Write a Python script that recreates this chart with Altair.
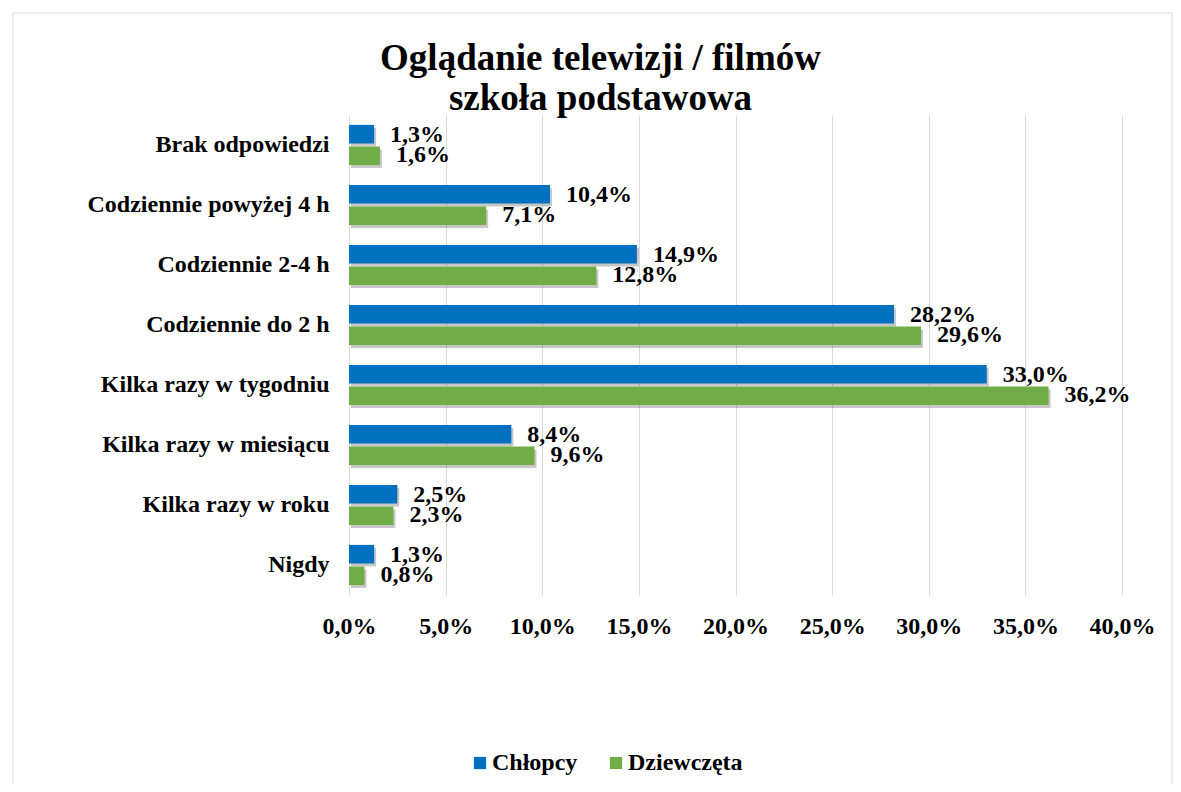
import altair as alt
import pandas as pd

categories = ["Brak odpowiedzi", "Codziennie powyżej 4 h", "Codziennie 2-4 h",
              "Codziennie do 2 h", "Kilka razy w tygodniu", "Kilka razy w miesiącu",
              "Kilka razy w roku", "Nigdy"]
chlopcy = [1.3, 10.4, 14.9, 28.2, 33.0, 8.4, 2.5, 1.3]
dziewczeta = [1.6, 7.1, 12.8, 29.6, 36.2, 9.6, 2.3, 0.8]
series = ["Chłopcy", "Dziewczęta"]
colors = ["#0070C0", "#70AD47"]
x_ticks = [0, 5, 10, 15, 20, 25, 30, 35, 40]

rows = []
for c, b, g in zip(categories, chlopcy, dziewczeta):
    rows.append({"cat": c, "series": series[0], "val": b})
    rows.append({"cat": c, "series": series[1], "val": g})
df = pd.DataFrame(rows)
df["label"] = df["val"].map(lambda v: f"{v:.1f}".replace(".", ",") + "%")

FONT = "Liberation Serif"

y_enc = alt.Y("cat:N", sort=categories,
              scale=alt.Scale(paddingInner=0.33, paddingOuter=0.165),
              axis=alt.Axis(title=None, ticks=False, domain=True, domainColor="#d9d9d9",
                            labelFont=FONT, labelFontSize=24, labelFontWeight="bold",
                            labelColor="#000000", labelPadding=20, grid=False,
                            labelLimit=400))
yoff = alt.YOffset("series:N", sort=series, scale=alt.Scale(paddingInner=0.14))
yoff_sh = alt.YOffset("series:N", sort=series,
                      scale=alt.Scale(paddingInner=0.14, range=[3, 43]))
x_enc = alt.X("val:Q", scale=alt.Scale(domain=[0, 40], nice=False),
              axis=alt.Axis(title=None, values=x_ticks, ticks=False, domain=False,
                            grid=True, gridColor="#d9d9d9", labelFlush=False,
                            labelFont=FONT, labelFontSize=24, labelFontWeight="bold",
                            labelColor="#000000", labelPadding=19,
                            labelExpr="replace(format(datum.value, '.1f'), '.', ',') + '%'"))

base = alt.Chart(df)

shadow = base.mark_bar(color="#000000", opacity=0.22, xOffset=2).encode(
    x=x_enc, y=y_enc, yOffset=yoff_sh)

bars = base.mark_bar().encode(
    x=x_enc, y=y_enc, yOffset=yoff,
    color=alt.Color("series:N", sort=series,
                    scale=alt.Scale(domain=series, range=colors),
                    legend=alt.Legend(title=None, orient="none", direction="horizontal",
                                      legendX=119, legendY=636, symbolType="square",
                                      symbolSize=150, symbolStrokeWidth=0,
                                      labelOffset=0,
                                      labelFont=FONT, labelFontSize=24,
                                      labelFontWeight="bold", labelColor="#000000",
                                      columnPadding=26, padding=0)))

labels = base.mark_text(align="left", baseline="middle", dx=16, font=FONT,
                        fontSize=24, fontWeight="bold", color="#000000").encode(
    x=x_enc, y=y_enc, yOffset=yoff, text="label:N")

border = alt.Chart(pd.DataFrame({"a": [0]})).mark_rect(
    filled=False, stroke="#d9d9d9", strokeWidth=1).encode(
    x=alt.value(-336), x2=alt.value(823), y=alt.value(-102), y2=alt.value(673))

chart = alt.layer(border, shadow, bars, labels).resolve_scale(
    yOffset="independent"
).properties(
    width=773, height=480,
    padding={"left": 341, "top": 107, "right": 51, "bottom": 189},
    autosize=alt.AutoSizeParams(type="none"),
    background="#ffffff",
    title=alt.TitleParams(["Oglądanie telewizji / filmów", "szkoła podstawowa"],
                          font=FONT, fontSize=37, fontWeight="bold", color="#000000",
                          anchor="middle", dx=-135, dy=107, offset=2, lineHeight=40),
).configure_view(stroke=None)

chart.save("out.html", embed_options={"renderer": "svg", "actions": False})
